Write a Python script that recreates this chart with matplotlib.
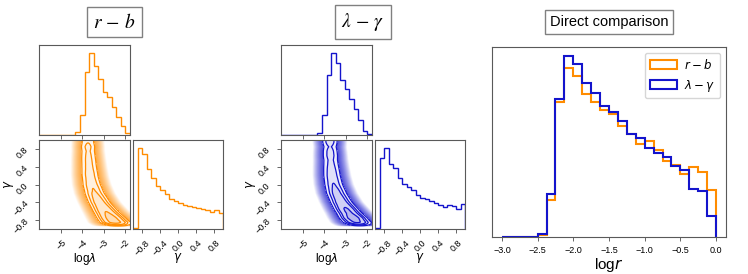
import numpy as np
import matplotlib
matplotlib.use("Agg")
import matplotlib.pyplot as plt
from matplotlib import rcParams

rcParams['font.family'] = ['Liberation Sans', 'DejaVu Sans']
rcParams['mathtext.fontset'] = 'dejavusans'

orange = '#ff8c00'
blue = '#1414cc'

# corner ranges
loglam_range = (-6.05, -1.75)
gamma_range = (-1.0, 1.0)

# marginal histograms (20 bins each)
loglam_hist_rb = [0, 0, 0, 0, 0, 0, 0, 0, 8, 58, 186, 241, 203, 165, 128, 111, 83, 53, 26, 6]
loglam_hist_lg = [0, 0, 0, 0, 0, 0, 0, 0, 5, 60, 178, 241, 211, 163, 135, 106, 78, 45, 13, 3]
gamma_hist_rb = [3, 236, 218, 176, 148, 126, 113, 101, 88, 83, 75, 70, 68, 63, 60, 58, 55, 51, 55, 46]
gamma_hist_lg = [2, 211, 239, 193, 179, 151, 133, 124, 114, 101, 93, 89, 84, 78, 71, 66, 71, 68, 58, 74]

# ridge of the 2D posterior (gamma -> log lambda centre / spread)
ridge_gamma = [-1.0, -0.9, -0.8, -0.6, -0.4, -0.2, 0.0, 0.2, 0.4, 0.6, 0.8, 1.0]
ridge_center = [-2.25, -2.35, -2.55, -2.9, -3.2, -3.42, -3.56, -3.64, -3.68, -3.71, -3.73, -3.74]
ridge_sigma = [0.42, 0.4, 0.37, 0.34, 0.32, 0.31, 0.3, 0.29, 0.28, 0.27, 0.26, 0.26]

# direct comparison, log r
logr_edges = np.arange(-3.0, 0.001, 0.125)
logr_rb = [0, 0, 0, 0, 5, 110, 405, 507, 484, 430, 405, 382, 370, 333, 310, 278,
           287, 260, 227, 216, 190, 209, 195, 140]
logr_lg = [0, 0, 0, 0, 8, 130, 413, 543, 518, 462, 433, 394, 374, 347, 310, 296,
           267, 252, 240, 213, 200, 144, 138, 64]

W, H = 748, 274


def px_axes(fig, x0, y0, x1, y1):
    return fig.add_axes([x0 / W, 1 - y1 / H, (x1 - x0) / W, (y1 - y0) / H])


def style(ax):
    for s in ax.spines.values():
        s.set_color('0.35')
        s.set_linewidth(0.8)
    ax.tick_params(direction='out', length=3, width=0.6, labelsize=6.5, color='0.3')


def hist1d(ax, counts, rng, color):
    edges = np.linspace(rng[0], rng[1], len(counts) + 1)
    ax.hist(edges[:-1], bins=edges, weights=counts, histtype='step', color=color, lw=1)
    ax.set_xlim(rng)
    ax.set_ylim(0, 1.1 * max(counts))
    ax.set_yticks([])


def density2d(ax, gamma_hist, color):
    x = np.linspace(loglam_range[0], loglam_range[1], 220)
    g = np.linspace(gamma_range[0], gamma_range[1], 220)
    gc = np.linspace(-0.95, 0.95, len(gamma_hist))
    c = np.interp(g, ridge_gamma, ridge_center)
    s = np.interp(g, ridge_gamma, ridge_sigma)
    w = np.interp(g, gc, gamma_hist) / s
    w[g < -0.94] = 0
    dens = w[:, None] * np.exp(-0.5 * ((x[None, :] - c[:, None]) / s[:, None]) ** 2)
    dens /= dens.max()

    # scatter-like cloud
    rgb = np.array(matplotlib.colors.to_rgb(color))
    a = np.clip((np.log10(dens + 1e-12) + 2.6) / 1.8, 0, 1) * 0.75
    img = np.zeros(dens.shape + (4,))
    img[..., :3] = rgb
    img[..., 3] = a
    ax.imshow(img, origin='lower', aspect='auto', interpolation='bilinear',
              extent=[x[0], x[-1], g[0], g[-1]])

    # mass levels as in corner
    flat = np.sort(dens.ravel())[::-1]
    cum = np.cumsum(flat)
    cum /= cum[-1]
    mass = 1 - np.exp(-0.5 * np.array([2.0, 1.5, 1.0, 0.5]) ** 2)
    levels = [flat[np.searchsorted(cum, m)] for m in mass]
    fills = [tuple(1 - f * (1 - rgb)) for f in (0.08, 0.13, 0.2, 0.3)]
    ax.contourf(x, g, dens, levels + [1.01], colors=fills, antialiased=False)
    ax.contour(x, g, dens, levels, colors=[color], linewidths=0.9)
    ax.set_xlim(loglam_range)
    ax.set_ylim(gamma_range)


def corner_panel(fig, xoff, lam_hist, gam_hist, color, title, title_x):
    ax_top = px_axes(fig, xoff + 39, 45, xoff + 130, 135)
    ax_2d = px_axes(fig, xoff + 39, 140, xoff + 130, 229)
    ax_r = px_axes(fig, xoff + 133, 140, xoff + 223, 229)
    for ax in (ax_top, ax_2d, ax_r):
        style(ax)

    hist1d(ax_top, lam_hist, loglam_range, color)
    ax_top.set_xticks([-5, -4, -3, -2])
    ax_top.set_xticklabels([])

    density2d(ax_2d, gam_hist, color)
    ax_2d.set_xticks([-5, -4, -3, -2])
    ax_2d.set_yticks([-0.8, -0.4, 0.0, 0.4, 0.8])
    for lab in ax_2d.get_xticklabels() + ax_2d.get_yticklabels():
        lab.set_rotation(45)
    ax_2d.set_xlabel(r'log$\lambda$', fontsize=8.5)
    ax_2d.xaxis.set_label_coords(0.5, -0.25)
    ax_2d.set_ylabel(r'$\gamma$', fontsize=8.5)
    ax_2d.yaxis.set_label_coords(-0.25, 0.5)

    hist1d(ax_r, gam_hist, gamma_range, color)
    ax_r.set_xticks([-0.8, -0.4, 0.0, 0.4, 0.8])
    for lab in ax_r.get_xticklabels():
        lab.set_rotation(45)
    ax_r.set_xlabel(r'$\gamma$', fontsize=8.5)
    ax_r.xaxis.set_label_coords(0.5, -0.25)

    fig.text(title_x / W, 1 - 22 / H, title, ha='center', va='center',
             fontsize=14, family='serif', math_fontfamily='stix',
             bbox=dict(boxstyle='square,pad=0.3', fc='white', ec='0.5', lw=1))


fig = plt.figure(figsize=(7.48, 2.74), dpi=100)

corner_panel(fig, 0, loglam_hist_rb, gamma_hist_rb, orange, r'$r\,-\,b$', 114.5)
corner_panel(fig, 242, loglam_hist_lg, gamma_hist_lg, blue, r'$\lambda\,-\,\gamma$', 363)

ax = px_axes(fig, 492, 47, 726, 237)
style(ax)
ax.hist(logr_edges[:-1], bins=logr_edges, weights=logr_rb, histtype='step',
        color=orange, lw=1.5, label=r'$r-b$')
ax.hist(logr_edges[:-1], bins=logr_edges, weights=logr_lg, histtype='step',
        color=blue, lw=1.5, label=r'$\lambda-\gamma$')
ax.set_xlim(-3.14, 0.14)
ax.set_ylim(0, 570)
ax.set_yticks([])
ax.set_xticks([-3.0, -2.5, -2.0, -1.5, -1.0, -0.5, 0.0])
ax.set_xlabel(r'log$r$', fontsize=11, labelpad=1)
ax.legend(loc='upper right', fontsize=8.5, handlelength=2.3, handletextpad=0.6)

fig.text(609 / W, 1 - 22 / H, 'Direct comparison', ha='center', va='center',
         fontsize=10.5, bbox=dict(boxstyle='square,pad=0.35', fc='white', ec='0.5', lw=1))

fig.savefig('out.png', dpi=100)
